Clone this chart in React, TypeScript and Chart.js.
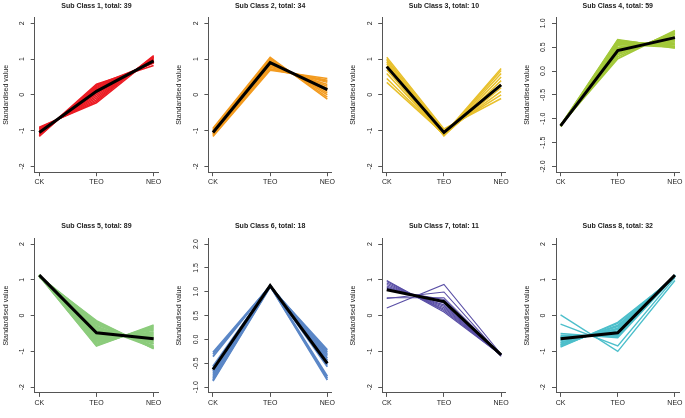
import React, { useEffect, useRef } from "react";
import { Chart, registerables } from "chart.js";

Chart.register(...registerables);

// ---------------- data ----------------
const categories = ["CK", "TEO", "NEO"];
const classNumbers = [1, 2, 3, 4, 5, 6, 7, 8];
const classTotals = [39, 34, 10, 59, 89, 18, 11, 32];
const classColors = ["#ec1c24", "#f39b1f", "#e8c02b", "#a3c93a", "#8ccc7c", "#5b87c7", "#5a4fa6", "#4dbfcb"];

const class1Lines = [
  [-1.16, 0.27, 0.89], [-1.14, 0.24, 0.9], [-1.12, 0.21, 0.91], [-1.1, 0.18, 0.92],
  [-1.09, 0.15, 0.94], [-1.07, 0.12, 0.95], [-1.05, 0.09, 0.96], [-1.03, 0.05, 0.98],
  [-1.01, 0.01, 1.0], [-0.99, -0.04, 1.03], [-0.96, -0.09, 1.05], [-0.94, -0.14, 1.08],
  [-0.92, -0.18, 1.1], [-0.9, -0.22, 1.06], [-1.12, 0.3, 0.82],
];
const class1Mean = [-1.05, 0.1, 0.95];

const class2Lines = [
  [-0.93, 1.05, -0.12], [-0.96, 1.02, -0.06], [-0.98, 0.99, 0.0], [-1.0, 0.96, 0.05],
  [-1.02, 0.93, 0.1], [-1.04, 0.9, 0.14], [-1.06, 0.87, 0.19], [-1.08, 0.84, 0.24],
  [-1.1, 0.81, 0.29], [-1.12, 0.77, 0.35], [-1.14, 0.73, 0.41], [-1.16, 0.69, 0.46],
  [-1.1, 0.72, 0.38],
];
const class2Mean = [-1.05, 0.9, 0.15];

const class3Lines = [
  [1.05, -0.95, -0.1], [1.0, -1.0, 0.0], [0.97, -1.06, 0.1], [0.92, -1.1, 0.2],
  [0.87, -1.13, 0.28], [0.8, -1.14, 0.4], [0.7, -1.14, 0.5], [0.6, -1.13, 0.6],
  [0.46, -1.12, 0.68], [0.35, -1.1, 0.74],
];
const class3Mean = [0.79, -1.05, 0.28];

const class4Lines = [
  [-1.14, 0.66, 0.48], [-1.15, 0.63, 0.52], [-1.15, 0.6, 0.55], [-1.15, 0.57, 0.58],
  [-1.15, 0.54, 0.61], [-1.15, 0.5, 0.64], [-1.15, 0.46, 0.68], [-1.15, 0.42, 0.72],
  [-1.15, 0.38, 0.76], [-1.14, 0.34, 0.8], [-1.14, 0.3, 0.83], [-1.13, 0.26, 0.85],
  [-1.14, 0.56, 0.5], [-1.15, 0.64, 0.5], [-1.14, 0.36, 0.78], [-1.15, 0.48, 0.66],
];
const class4Mean = [-1.15, 0.43, 0.7];

const class5Lines = [
  [1.07, -0.14, -0.93], [1.09, -0.2, -0.89], [1.1, -0.26, -0.84], [1.11, -0.32, -0.79],
  [1.12, -0.38, -0.74], [1.12, -0.44, -0.68], [1.13, -0.5, -0.63], [1.13, -0.56, -0.57],
  [1.13, -0.62, -0.51], [1.13, -0.68, -0.45], [1.12, -0.74, -0.38], [1.12, -0.8, -0.32],
  [1.11, -0.85, -0.26], [1.12, -0.3, -0.9], [1.1, -0.17, -0.91], [1.11, -0.23, -0.87],
  [1.12, -0.35, -0.77], [1.12, -0.41, -0.71], [1.13, -0.47, -0.66], [1.13, -0.53, -0.6],
  [1.13, -0.59, -0.54], [1.13, -0.65, -0.48], [1.12, -0.71, -0.41], [1.12, -0.77, -0.35],
  [1.11, -0.83, -0.29],
];
const class5Mean = [1.13, -0.48, -0.65];

const class6Lines = [
  [-0.27, 1.12, -0.85], [-0.31, 1.12, -0.81], [-0.36, 1.13, -0.77], [-0.56, 1.13, -0.57],
  [-0.6, 1.13, -0.53], [-0.63, 1.13, -0.5], [-0.66, 1.13, -0.47], [-0.7, 1.13, -0.43],
  [-0.74, 1.13, -0.39], [-0.78, 1.12, -0.34], [-0.82, 1.12, -0.3], [-0.85, 1.11, -0.26],
  [-0.87, 1.1, -0.22],
];
const class6Mean = [-0.63, 1.13, -0.5];

const class7Lines = [
  [0.21, 0.87, -1.08], [0.48, 0.66, -1.12], [0.5, 0.5, -1.1], [0.98, 0.1, -1.1],
  [0.95, 0.14, -1.1], [0.91, 0.18, -1.1], [0.87, 0.22, -1.1], [0.83, 0.26, -1.1],
  [0.79, 0.3, -1.1], [0.76, 0.35, -1.1], [0.72, 0.45, -1.14],
];
const class7Mean = [0.72, 0.39, -1.1];

const class8Lines = [
  [0.02, -1.0, 0.98], [-0.24, -0.85, 1.06], [-0.5, -0.62, 1.1], [-0.55, -0.58, 1.12],
  [-0.58, -0.55, 1.13], [-0.62, -0.51, 1.13], [-0.66, -0.47, 1.13], [-0.7, -0.43, 1.13],
  [-0.74, -0.39, 1.13], [-0.77, -0.35, 1.12], [-0.8, -0.31, 1.11], [-0.83, -0.27, 1.1],
  [-0.86, -0.22, 1.08], [-0.88, -0.19, 1.07], [-0.6, -0.53, 1.13], [-0.68, -0.45, 1.13],
  [-0.75, -0.37, 1.12], [-0.82, -0.29, 1.11],
];
const class8Mean = [-0.65, -0.48, 1.13];

const intTicks = [-2, -1, 0, 1, 2];
const intTickLabels = ["-2", "-1", "0", "1", "2"];
const lowHalfTicks = [-2, -1.5, -1, -0.5, 0, 0.5, 1];
const lowHalfTickLabels = ["-2.0", "-1.5", "-1.0", "-0.5", "0.0", "0.5", "1.0"];
const highHalfTicks = [-1, -0.5, 0, 0.5, 1, 1.5, 2];
const highHalfTickLabels = ["-1.0", "-0.5", "0.0", "0.5", "1.0", "1.5", "2.0"];

const allLines = [class1Lines, class2Lines, class3Lines, class4Lines, class5Lines, class6Lines, class7Lines, class8Lines];
const allMeans = [class1Mean, class2Mean, class3Mean, class4Mean, class5Mean, class6Mean, class7Mean, class8Mean];
const allTicks = [intTicks, intTicks, intTicks, lowHalfTicks, intTicks, highHalfTicks, intTicks, intTicks];
const allTickLabels = [intTickLabels, intTickLabels, intTickLabels, lowHalfTickLabels, intTickLabels, highHalfTickLabels, intTickLabels, intTickLabels];

// ---------------- layout ----------------
const PAGE_W = 685;
const PAGE_H = 418;
const COL_LEFT = [34.7, 208.4, 382.2, 556.0];
const ROW_TOP = [17.6, 238.3];
const PLOT_W = 123.5;
const PLOT_H = 154.6;
const Y_AXIS_W = 36;
const X_AXIS_H = 22;
const FONT = '"Liberation Sans", Arial, Helvetica, sans-serif';
const TEXT_COLOR = "#222";
const AXIS_COLOR = "#555";
const LINE_WIDTHS = [1.5, 1.5, 1.5, 1.7, 1.6, 1.8, 1.1, 1.4];

function Panel({ idx }: { idx: number }) {
  const ref = useRef<HTMLCanvasElement | null>(null);
  useEffect(() => {
    const canvas = ref.current;
    if (!canvas) return;
    const col = idx % 4;
    const row = Math.floor(idx / 4);
    const L = COL_LEFT[col];
    const T = ROW_TOP[row];
    const ticks = allTicks[idx];
    const tickLabels = allTickLabels[idx];
    const span = ticks[ticks.length - 1] - ticks[0];
    const yMin = ticks[0] - span * 0.04;
    const yMax = ticks[ticks.length - 1] + span * 0.04;
    const title = `Sub Class ${classNumbers[idx]}, total: ${classTotals[idx]}`;

    const toPoints = (vals: number[]) => vals.map((v, i) => ({ x: i + 1, y: v }));

    const datasets: any[] = [
      {
        data: toPoints(allMeans[idx]),
        borderColor: "#000",
        borderWidth: 3,
        order: 0,
      },
      ...allLines[idx].map((ln) => ({
        data: toPoints(ln),
        borderColor: classColors[idx],
        borderWidth: LINE_WIDTHS[idx],
        order: 1,
      })),
    ];

    const textPlugin = {
      id: "panelText" + idx,
      afterDraw(chart: any) {
        const { ctx, chartArea } = chart;
        const yScale = chart.scales.y;
        ctx.save();
        ctx.fillStyle = TEXT_COLOR;
        ctx.textAlign = "center";
        ctx.textBaseline = "middle";
        ctx.font = `bold 7px ${FONT}`;
        ctx.fillText(title, (chartArea.left + chartArea.right) / 2, chartArea.top - 12);
        ctx.font = `7px ${FONT}`;
        ticks.forEach((v, i) => {
          const y = yScale.getPixelForValue(v);
          ctx.save();
          ctx.translate(chartArea.left - 12.5, y);
          ctx.rotate(-Math.PI / 2);
          ctx.fillText(tickLabels[i], 0, 0);
          ctx.restore();
        });
        ctx.save();
        ctx.translate(chartArea.left - 29, (chartArea.top + chartArea.bottom) / 2);
        ctx.rotate(-Math.PI / 2);
        ctx.fillText("Standardised value", 0, 0);
        ctx.restore();
        ctx.restore();
      },
    };

    const chart = new Chart(canvas, {
      type: "line",
      data: { datasets },
      options: {
        responsive: false,
        animation: false,
        events: [],
        layout: {
          padding: {
            left: L - Y_AXIS_W,
            top: T,
            right: PAGE_W - L - PLOT_W,
            bottom: PAGE_H - T - PLOT_H - X_AXIS_H,
          },
        },
        elements: { point: { radius: 0 }, line: { tension: 0 } },
        plugins: {
          legend: { display: false },
          tooltip: { enabled: false },
          title: { display: false },
        },
        scales: {
          x: {
            type: "linear",
            min: 0.92,
            max: 3.08,
            afterBuildTicks: (s: any) => {
              s.ticks = categories.map((_, i) => ({ value: i + 1 }));
            },
            afterFit: (s: any) => {
              s.height = X_AXIS_H;
            },
            ticks: {
              callback: (_v: any, i: number) => categories[i],
              font: { family: FONT, size: 7 },
              color: TEXT_COLOR,
              padding: 2,
              maxRotation: 0,
              minRotation: 0,
              autoSkip: false,
            },
            grid: { display: true, drawOnChartArea: false, drawTicks: true, tickLength: 4, color: AXIS_COLOR, lineWidth: 1 },
            border: { display: true, color: AXIS_COLOR, width: 1 },
          },
          y: {
            type: "linear",
            min: yMin,
            max: yMax,
            afterBuildTicks: (s: any) => {
              s.ticks = ticks.map((v) => ({ value: v }));
            },
            afterFit: (s: any) => {
              s.width = Y_AXIS_W;
            },
            ticks: { display: false },
            grid: { display: true, drawOnChartArea: false, drawTicks: true, tickLength: 4, color: AXIS_COLOR, lineWidth: 1 },
            border: { display: true, color: AXIS_COLOR, width: 1 },
          },
        },
      } as any,
      plugins: [textPlugin],
    });
    return () => chart.destroy();
  }, [idx]);

  return (
    <canvas
      ref={ref}
      width={PAGE_W}
      height={PAGE_H}
      style={{ position: "absolute", left: 0, top: 0, width: PAGE_W, height: PAGE_H }}
    />
  );
}

export default function App() {
  return (
    <div style={{ position: "absolute", left: 0, top: 0, width: PAGE_W, height: PAGE_H, background: "#fff" }}>
      {classNumbers.map((_, i) => (
        <Panel key={i} idx={i} />
      ))}
    </div>
  );
}
